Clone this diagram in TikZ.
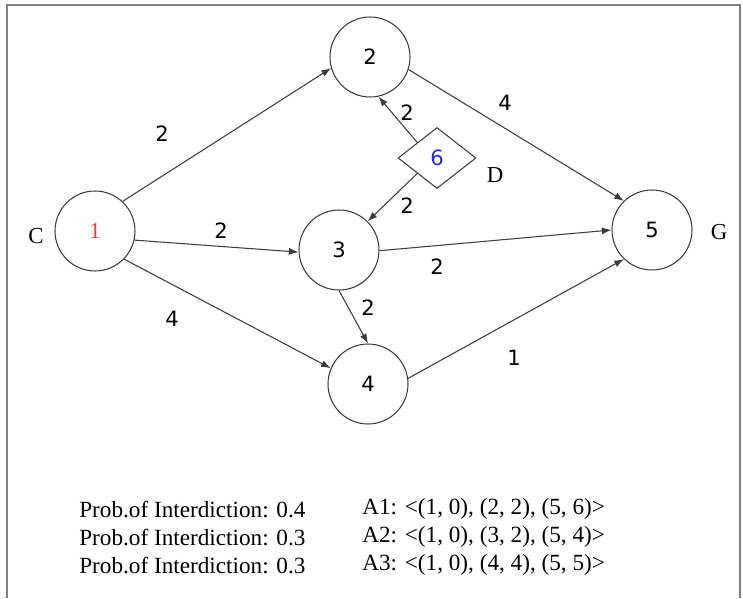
\documentclass[tikz,border=0pt]{standalone}
\usepackage{fontspec}
\setmainfont{Liberation Serif}
\newfontfamily\digitfont{DejaVu Sans}
\usepackage{tikz}
\usetikzlibrary{arrows,arrows.meta,shapes}
\usepackage{xcolor}
\definecolor{framegray}{RGB}{128,128,128}
\definecolor{linegray}{RGB}{60,60,60}
\definecolor{nodered}{RGB}{232,64,64}
\definecolor{nodeblue}{RGB}{40,40,210}

\begin{document}
\begin{tikzpicture}[x=0.02cm, y=-0.02cm, ->, >={Latex[length=5.5pt,width=4pt]},
  main node/.style={circle, draw=linegray, line width=0.6pt, minimum size=1.6cm, inner sep=0pt, font=\digitfont\fontsize{12}{14}\selectfont},
  dia node/.style={diamond, draw=linegray, line width=0.6pt, minimum width=1.56cm, minimum height=1.22cm, inner sep=0pt, font=\digitfont\fontsize{12}{14}\selectfont},
  weight/.style={font=\digitfont\fontsize{12}{14}\selectfont},
  side/.style={font=\fontsize{13}{15}\selectfont},
  info/.style={anchor=west, inner sep=0pt, font=\fontsize{13.2}{15}\selectfont},
  every edge/.style={draw=linegray, line width=0.6pt}]
\useasboundingbox (0,0) rectangle (743,598);
\draw[-, framegray, line width=1.2pt] (7,598) -- (7,5) -- (740,5) -- (740,598);
% graph nodes
\node[main node, text=nodered, font=\fontsize{13}{15}\selectfont] (1) at (95,231) {1};
\node[main node] (2) at (370,57) {2};
\node[main node] (3) at (339,250) {3};
\node[main node] (4) at (368,384) {4};
\node[main node] (5) at (652,230) {5};
\node[dia node, text=nodeblue] (6) at (437,158) {6};
\node[side] (C) at (36,236) {C};
\node[side] (D) at (495,175) {D};
\node[side] (G) at (719,232) {G};
% arcs
\path
(1.47) edge (2.196)
(1.-13) edge (3.183)
(1.-44) edge (4.157)
(2.-18) edge (5.134)
(3.-1) edge (5.180)
(4.8) edge (5.226)
(3.-90) edge (4.90)
(6.north west) edge (2.-78)
(6.south west) edge (3.45);
% arc weights
\node[weight] (w12) at (162,134) {2};
\node[weight] (w13) at (221,231) {2};
\node[weight] (w14) at (172,319) {4};
\node[weight] (w25) at (505,103) {4};
\node[weight] (w62) at (407,113) {2};
\node[weight] (w63) at (407,206) {2};
\node[weight] (w35) at (437,267) {2};
\node[weight] (w34) at (368,308) {2};
\node[weight] (w45) at (514,358) {1};
% interdiction table
\node[info] (p1) at (79,509) {Prob.of Interdiction: 0.4};
\node[info] (p2) at (79,537) {Prob.of Interdiction: 0.3};
\node[info] (p3) at (79,565) {Prob.of Interdiction: 0.3};
\node[info] (a1) at (362,509) {A1: <(1, 0), (2, 2), (5, 6)>};
\node[info] (a2) at (362,537) {A2: <(1, 0), (3, 2), (5, 4)>};
\node[info] (a3) at (362,565) {A3: <(1, 0), (4, 4), (5, 5)>};
\end{tikzpicture}
\end{document}
